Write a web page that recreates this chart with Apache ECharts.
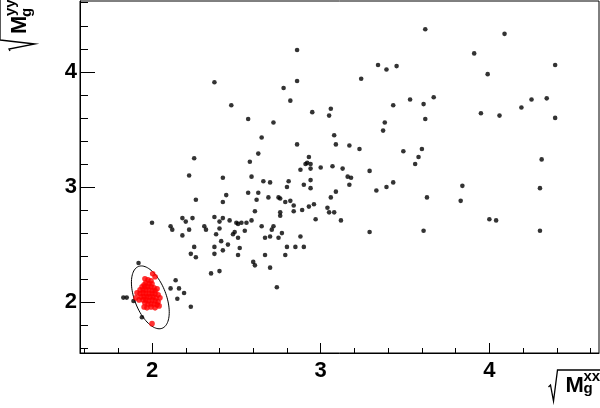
<!DOCTYPE html>
<html>
<head>
<meta charset="utf-8">
<script src="https://cdn.jsdelivr.net/npm/echarts@6/dist/echarts.min.js"></script>
<style>
html,body{margin:0;padding:0;background:#fff;}
#chart{width:600px;height:408px;}
</style>
</head>
<body>
<div id="chart"></div>
<script>
// ---- data ----
const xMajorTicks = [2, 3, 4];
const xMinorTicks = [1.6, 1.8, 2.0, 2.2, 2.4, 2.6, 2.8, 3.0, 3.2, 3.4, 3.6, 3.8, 4.0, 4.2, 4.4, 4.6];
const yMajorTicks = [2, 3, 4];
const yMinorTicks = [1.6, 1.8, 2.0, 2.2, 2.4, 2.6, 2.8, 3.0, 3.2, 3.4, 3.6, 3.8, 4.0, 4.2, 4.4, 4.6];
const xRange = [1.573, 4.65];
const yRange = [1.559, 4.615];

const blackPoints = [
  [2.86,4.19],[2.37,3.91],[2.86,3.92],[2.78,3.86],[2.82,3.75],[2.47,3.71],[2.57,3.59],[2.72,3.56],
  [3.62,4.37],[4.09,4.33],[3.91,4.16],[3.34,4.06],[3.39,4.02],[3.45,4.05],[4.39,4.06],[3.24,3.94],
  [3.99,3.98],[3.53,3.76],[3.67,3.78],[3.61,3.72],[3.43,3.71],[3.06,3.68],[2.95,3.65],[3.05,3.62],
  [3.62,3.59],[3.38,3.56],[3.37,3.49],[4.19,3.69],[4.25,3.76],[4.34,3.77],[3.95,3.64],[4.06,3.62],
  [4.39,3.60],[2.65,3.43],[2.86,3.37],[3.08,3.45],[3.09,3.37],[3.17,3.36],[3.23,3.33],[2.63,3.29],
  [2.25,3.25],[2.58,3.22],[2.93,3.26],[2.91,3.20],[2.92,3.21],[2.94,3.20],[2.94,3.16],[2.88,3.15],
  [3.00,3.17],[3.07,3.18],[3.13,3.16],[3.29,3.14],[2.22,3.10],[2.42,3.08],[2.59,3.09],[2.66,3.05],
  [2.70,3.04],[2.81,3.05],[2.80,3.00],[2.94,3.06],[2.90,3.02],[2.94,2.99],[3.16,3.09],[3.18,3.08],
  [3.17,3.02],[3.33,2.97],[3.39,3.00],[3.43,3.04],[3.09,2.96],[2.57,2.95],[2.63,2.95],[2.69,2.91],
  [2.75,2.91],[2.76,2.90],[2.44,2.93],[2.26,2.89],[3.06,2.91],[3.63,2.91],[3.84,3.01],[4.30,2.99],
  [3.49,3.31],[3.60,3.33],[3.58,3.26],[3.56,3.20],[4.31,3.24],[2.42,2.87],[2.62,2.89],[2.79,2.87],
  [2.82,2.88],[2.84,2.84],[2.84,2.79],[2.89,2.80],[2.93,2.83],[2.96,2.85],[3.04,2.82],[3.05,2.78],
  [3.08,2.78],[2.97,2.72],[3.12,2.71],[3.83,2.88],[3.29,2.61],[3.61,2.62],[4.00,2.72],[4.04,2.71],
  [4.30,2.62],[2.88,2.57],[2.90,2.48],[2.61,2.79],[2.76,2.78],[2.76,2.75],[2.18,2.73],[2.20,2.70],
  [2.24,2.73],[2.37,2.74],[2.42,2.73],[2.40,2.70],[2.46,2.71],[2.50,2.69],[2.51,2.68],[2.53,2.69],
  [2.56,2.69],[2.59,2.71],[2.11,2.66],[2.12,2.63],[2.22,2.63],[2.31,2.66],[2.32,2.63],[2.40,2.64],
  [2.65,2.66],[2.72,2.66],[2.71,2.63],[2.38,2.59],[2.48,2.59],[2.49,2.61],[2.55,2.62],[2.51,2.56],
  [2.18,2.58],[2.67,2.56],[2.70,2.57],[2.75,2.56],[2.77,2.60],[2.41,2.53],[2.45,2.50],[2.25,2.48],
  [2.37,2.48],[2.52,2.47],[2.42,2.45],[2.23,2.42],[2.37,2.42],[2.26,2.39],[2.51,2.41],[2.67,2.41],
  [2.79,2.41],[2.80,2.48],[2.85,2.48],[2.60,2.35],[2.61,2.32],[2.70,2.30],[2.40,2.27],[2.35,2.25],
  [2.74,2.13],[2.14,2.19],[2.11,2.12],[2.16,2.12],[2.19,2.08],[2.15,2.03],[2.23,1.96],[2.00,2.69],
  [1.92,2.34],[1.83,2.04],[1.85,2.04],[1.89,2.01],[1.94,1.87]
];

const redPoints = [
  [1.958,2.203],[1.976,2.194],[1.994,2.186],[1.964,2.168],[1.982,2.160],[2.000,2.160],[1.953,2.151],
  [1.941,2.134],[1.958,2.134],[1.976,2.134],[1.994,2.134],[2.012,2.125],[1.929,2.107],[1.947,2.107],
  [1.964,2.107],[1.982,2.107],[2.000,2.099],[2.018,2.099],[2.030,2.116],[1.911,2.081],[1.929,2.073],
  [1.947,2.081],[1.964,2.073],[1.982,2.073],[2.000,2.073],[2.018,2.073],[2.036,2.064],[1.935,2.046],
  [1.953,2.046],[1.970,2.046],[1.988,2.046],[2.006,2.046],[2.024,2.038],[2.047,2.038],[1.923,2.020],
  [1.947,2.020],[1.964,2.020],[1.982,2.012],[2.000,2.020],[2.018,2.012],[2.036,2.003],[1.958,1.994],
  [1.976,1.985],[1.994,1.985],[2.012,1.985],[2.030,1.977],[1.953,1.959],[1.970,1.951],[1.994,1.959],
  [2.018,1.951],[2.042,1.968],[2.004,2.247],[2.018,2.221],[2.000,1.814],[1.905,2.038]
];

// ellipse: centre and two conjugate half-axis vectors (data units)
const ellipseCenter = [1.990, 2.042];
const ellipseAxisA = [-0.0701, 0.2683];
const ellipseAxisB = [0.0875, 0.0493];

// ---- chart ----
const chart = echarts.init(document.getElementById('chart'), null, {renderer: 'canvas'});
const FONT = '"Liberation Sans", Arial, Helvetica, sans-serif';

const baseX = {
  type: 'value', min: xRange[0], max: xRange[1], position: 'bottom',
  splitLine: {show: false}
};
const baseY = {
  type: 'value', min: yRange[0], max: yRange[1], position: 'left',
  splitLine: {show: false}
};

const option = {
  animation: false,
  backgroundColor: '#fff',
  grid: {left: 80, top: 1, width: 519, height: 352, show: true, borderColor: '#000', borderWidth: 1, backgroundColor: 'transparent'},
  xAxis: [
    Object.assign({}, baseX, {
      axisLine: {show: true, lineStyle: {color: '#000', width: 1}},
      axisTick: {show: true, inside: true, length: 10, customValues: xMajorTicks, lineStyle: {color: '#000', width: 1}},
      axisLabel: {show: true, customValues: xMajorTicks, margin: 7, color: '#000', fontFamily: FONT, fontWeight: 'bold', fontSize: 22}
    }),
    Object.assign({}, baseX, {
      axisLine: {show: false},
      axisTick: {show: true, inside: true, length: 5, customValues: xMinorTicks, lineStyle: {color: '#000', width: 1}},
      axisLabel: {show: false}
    })
  ],
  yAxis: [
    Object.assign({}, baseY, {
      axisLine: {show: true, lineStyle: {color: '#000', width: 1}},
      axisTick: {show: true, inside: true, length: 15, customValues: yMajorTicks, lineStyle: {color: '#000', width: 1}},
      axisLabel: {show: true, customValues: yMajorTicks, margin: 3, color: '#000', fontFamily: FONT, fontWeight: 'bold', fontSize: 22}
    }),
    Object.assign({}, baseY, {
      axisLine: {show: false},
      axisTick: {show: true, inside: true, length: 8, customValues: yMinorTicks, lineStyle: {color: '#000', width: 1}},
      axisLabel: {show: false}
    })
  ],
  series: [
    {
      type: 'scatter', xAxisIndex: 0, yAxisIndex: 0, data: blackPoints,
      symbol: 'circle', symbolSize: 4.6, itemStyle: {color: '#000'}, silent: true
    },
    {
      type: 'scatter', xAxisIndex: 0, yAxisIndex: 0, data: redPoints,
      symbol: 'circle', symbolSize: 5.6, itemStyle: {color: '#ff0000'}, silent: true
    },
    {
      type: 'custom', xAxisIndex: 0, yAxisIndex: 0, silent: true,
      data: [[ellipseCenter[0], ellipseCenter[1]]],
      renderItem: function (params, api) {
        const pts = [];
        const n = 96;
        for (let i = 0; i <= n; i++) {
          const t = i / n * 2 * Math.PI;
          pts.push(api.coord([
            ellipseCenter[0] + Math.cos(t) * ellipseAxisA[0] + Math.sin(t) * ellipseAxisB[0],
            ellipseCenter[1] + Math.cos(t) * ellipseAxisA[1] + Math.sin(t) * ellipseAxisB[1]
          ]));
        }
        return {type: 'polyline', shape: {points: pts}, style: {stroke: '#000', fill: null, lineWidth: 1}};
      }
    }
  ],
  graphic: [
    {
      type: 'group', x: 557.5, y: 370,
      children: [
        {type: 'polyline', shape: {points: [[-9, 17], [-7, 15], [-4, 31], [0, 0], [42.5, 0]]}, style: {stroke: '#000', fill: null, lineWidth: 1.3}},
        {type: 'text', x: 8, y: 5, style: {text: 'M', font: 'bold 22px ' + FONT, fill: '#000', verticalAlign: 'top'}},
        {type: 'text', x: 26, y: -1, style: {text: 'xx', font: 'bold 15px ' + FONT, fill: '#000', verticalAlign: 'top'}},
        {type: 'text', x: 26, y: 11, style: {text: 'g', font: 'bold 15px ' + FONT, fill: '#000', verticalAlign: 'top'}}
      ]
    },
    {
      type: 'group', x: 0, y: 40, rotation: Math.PI / 2,
      children: [
        {type: 'polyline', shape: {points: [[-11, 10], [-9, 9], [-4, 35], [0, 0], [45, 0]]}, style: {stroke: '#000', fill: null, lineWidth: 1.3}},
        {type: 'text', x: 6, y: 9, style: {text: 'M', font: 'bold 22px ' + FONT, fill: '#000', verticalAlign: 'top'}},
        {type: 'text', x: 24, y: 3, style: {text: 'yy', font: 'bold 15px ' + FONT, fill: '#000', verticalAlign: 'top'}},
        {type: 'text', x: 23, y: 19, style: {text: 'g', font: 'bold 15px ' + FONT, fill: '#000', verticalAlign: 'top'}}
      ]
    }
  ]
};
chart.setOption(option);
</script>
</body>
</html>
